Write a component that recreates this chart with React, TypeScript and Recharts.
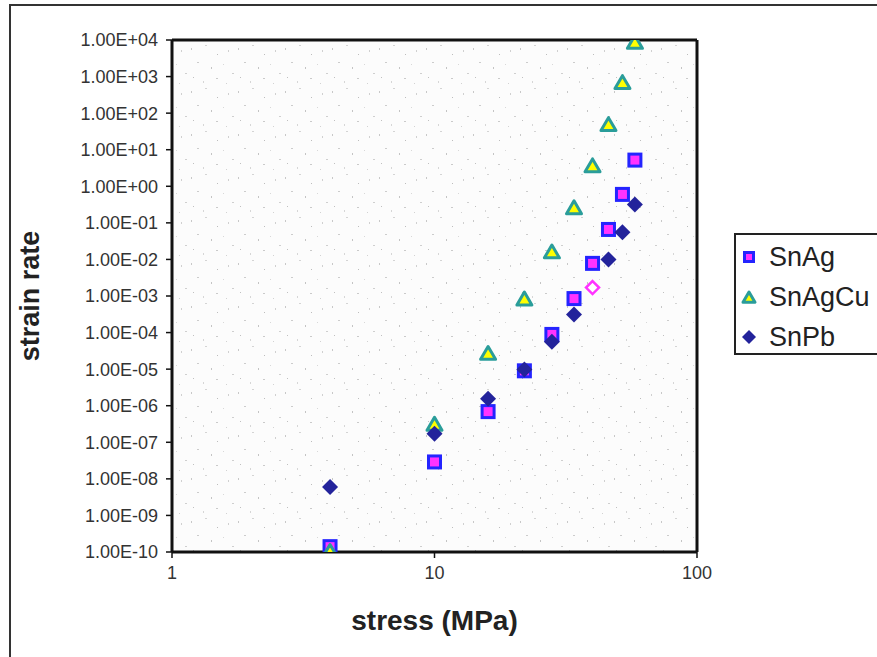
import {
  ScatterChart,
  Scatter,
  XAxis,
  YAxis,
  CartesianGrid,
  ReferenceLine,
  Legend,
} from "recharts";

// stress (MPa) values shared by all three alloys
const stressValues = [4, 10, 16, 22, 28, 34, 40, 46, 52, 58];

const snAgRates = [1.4e-10, 2.9e-8, 6.9e-7, 9e-6, 8.9e-5, 8.5e-4, 7.8e-3, 6.6e-2, 0.6, 5.2];
const snAgCuRates = [1e-10, 3e-7, 2.6e-5, 8e-4, 1.55e-2, 0.25, 3.5, 47, 660, 8300];
const snPbRates = [6e-9, 1.7e-7, 1.55e-6, 9.8e-6, 5.6e-5, 3.1e-4, 1.7e-3, 1e-2, 5.5e-2, 0.32];

// the one SnPb point drawn as a hollow pink diamond
const snPbOddStress = 40;

const stressTicks = [1, 10, 100];
const rateTicks = [1e-10, 1e-9, 1e-8, 1e-7, 1e-6, 1e-5, 1e-4, 1e-3, 1e-2, 1e-1, 1, 1e1, 1e2, 1e3, 1e4];

const seriesNames = ["SnAg", "SnAgCu", "SnPb"];

const toPoints = (rates: number[]) =>
  rates.map((rate, i) => ({ stress: stressValues[i], rate }));

const FONT = "'Liberation Sans', Arial, sans-serif";

const fmtRate = (v: number) => {
  const e = Math.round(Math.log10(v));
  return `1.00E${e < 0 ? "-" : "+"}${String(Math.abs(e)).padStart(2, "0")}`;
};

function SquareMark({ cx, cy, s = 12 }: any) {
  return (
    <rect x={cx - s / 2} y={cy - s / 2} width={s} height={s} fill="#ff33ff" stroke="#2424ff" strokeWidth={3} />
  );
}

function TriangleMark({ cx, cy, s = 7.5 }: any) {
  return (
    <polygon
      points={`${cx},${cy - s} ${cx + s},${cy + s * 0.72} ${cx - s},${cy + s * 0.72}`}
      fill="#ffff00"
      stroke="#2a9d9a"
      strokeWidth={3}
      strokeLinejoin="round"
    />
  );
}

function DiamondMark({ cx, cy, s = 8, hollow = false }: any) {
  const pts = `${cx},${cy - s} ${cx + s},${cy} ${cx},${cy + s} ${cx - s},${cy}`;
  if (hollow) return <polygon points={pts} fill="#ffffff" stroke="#ff33ff" strokeWidth={2.5} />;
  return <polygon points={pts} fill="#23239b" />;
}

const snPbShape = (props: any) => (
  <DiamondMark
    cx={props.cx}
    cy={props.cy}
    s={props.payload?.stress === snPbOddStress ? 6.5 : 8}
    hollow={props.payload?.stress === snPbOddStress}
  />
);

function LegendBox() {
  const marks = [
    <SquareMark cx={10} cy={10} s={9} />,
    <TriangleMark cx={10} cy={11} s={6} />,
    <DiamondMark cx={10} cy={10} s={7} />,
  ];
  return (
    <div
      style={{
        border: "2px solid #222",
        background: "#fff",
        width: 160,
        height: 122,
        boxSizing: "border-box",
        paddingTop: 2,
        fontFamily: FONT,
      }}
    >
      {seriesNames.map((name, i) => (
        <div key={name} style={{ display: "flex", alignItems: "center", height: 40 }}>
          <svg width={28} height={20} style={{ marginLeft: 3 }}>
            {marks[i]}
          </svg>
          <span style={{ fontSize: 27, color: "#222", marginLeft: 2 }}>{name}</span>
        </div>
      ))}
    </div>
  );
}

export default function App() {
  return (
    <div style={{ position: "absolute", left: 0, top: 0, width: 877, height: 657, background: "#fff", overflow: "hidden" }}>
      <div
        style={{
          position: "absolute",
          left: 9,
          top: 4,
          width: 900,
          height: 700,
          borderTop: "2px solid #333",
          borderLeft: "2px solid #333",
        }}
      />
      <ScatterChart
        width={877}
        height={657}
        margin={{ top: 40, right: 180, left: 52, bottom: 65 }}
        style={{ fontFamily: FONT }}
      >
        <defs>
          <pattern id="speckle" width="47" height="43" patternUnits="userSpaceOnUse">
            <rect width="47" height="43" fill="#fcfcfc" />
            <rect x="3" y="5" width="1" height="2" fill="#c8c8c8" />
            <rect x="17" y="2" width="2" height="1" fill="#d4d4d4" />
            <rect x="29" y="11" width="1" height="1" fill="#bdbdbd" />
            <rect x="40" y="7" width="1" height="2" fill="#d0d0d0" />
            <rect x="9" y="19" width="2" height="1" fill="#cccccc" />
            <rect x="23" y="24" width="1" height="2" fill="#c4c4c4" />
            <rect x="35" y="21" width="1" height="1" fill="#d8d8d8" />
            <rect x="44" y="30" width="2" height="1" fill="#cfcfcf" />
            <rect x="5" y="34" width="1" height="1" fill="#c0c0c0" />
            <rect x="15" y="38" width="1" height="2" fill="#d6d6d6" />
            <rect x="28" y="35" width="2" height="1" fill="#cacaca" />
            <rect x="38" y="40" width="1" height="1" fill="#d2d2d2" />
          </pattern>
        </defs>
        <CartesianGrid horizontal={false} vertical={false} fill="url(#speckle)" />
        <XAxis
          type="number"
          dataKey="stress"
          scale="log"
          domain={[1, 100]}
          ticks={stressTicks}
          allowDataOverflow
          height={40}
          axisLine={{ stroke: "#111", strokeWidth: 3 }}
          tickLine={{ stroke: "#111", strokeWidth: 1.5 }}
          tickSize={6}
          tickMargin={8}
          tick={{ fill: "#333", fontSize: 18, fontFamily: FONT }}
          label={{
            content: ({ viewBox }: any) => (
              <text
                x={viewBox.x + viewBox.width / 2}
                y={620}
                textAnchor="middle"
                dominantBaseline="central"
                fontSize={28}
                fontWeight="bold"
                fill="#222"
                fontFamily={FONT}
              >
                stress (MPa)
              </text>
            ),
          }}
        />
        <YAxis
          type="number"
          dataKey="rate"
          scale="log"
          domain={[1e-10, 1e4]}
          ticks={rateTicks}
          interval={0}
          allowDataOverflow
          width={120}
          axisLine={{ stroke: "#111", strokeWidth: 3 }}
          tickLine={{ stroke: "#111", strokeWidth: 1.5 }}
          tickSize={6}
          tickMargin={8}
          tickFormatter={fmtRate}
          tick={{ fill: "#333", fontSize: 18, fontFamily: FONT }}
          label={{
            content: ({ viewBox }: any) => (
              <text
                transform={`translate(30,${viewBox.y + viewBox.height / 2}) rotate(-90)`}
                textAnchor="middle"
                dominantBaseline="central"
                fontSize={27}
                fontWeight="bold"
                fill="#222"
                fontFamily={FONT}
              >
                strain rate
              </text>
            ),
          }}
        />
        <ReferenceLine y={1e4} stroke="#111" strokeWidth={3} />
        <ReferenceLine x={100} stroke="#111" strokeWidth={3} />
        <Legend
          layout="horizontal"
          verticalAlign="middle"
          align="center"
          content={() => <LegendBox />}
          wrapperStyle={{ position: "absolute", left: 734, top: 233, width: "auto" }}
        />
        <Scatter name={seriesNames[0]} data={toPoints(snAgRates)} shape={(p: any) => <SquareMark cx={p.cx} cy={p.cy} />} isAnimationActive={false} />
        <Scatter name={seriesNames[1]} data={toPoints(snAgCuRates)} shape={(p: any) => <TriangleMark cx={p.cx} cy={p.cy} />} isAnimationActive={false} />
        <Scatter name={seriesNames[2]} data={toPoints(snPbRates)} shape={snPbShape} isAnimationActive={false} />
      </ScatterChart>
    </div>
  );
}
